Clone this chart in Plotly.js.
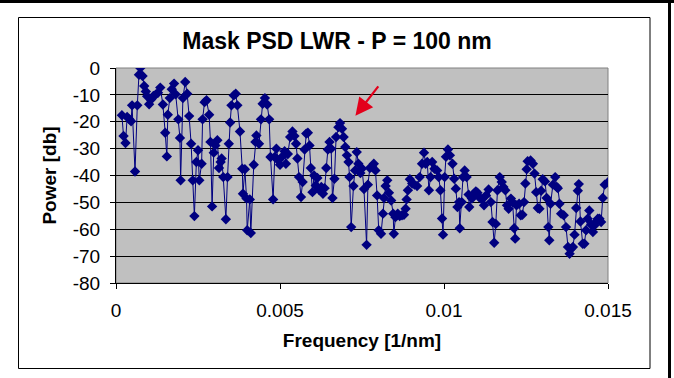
<!DOCTYPE html>
<html>
<head>
<meta charset="utf-8">
<script src="https://cdn.plot.ly/plotly-3.0.1.min.js"></script>
<style>
html,body{margin:0;padding:0;background:#ffffff;}
#chart{width:674px;height:378px;}
</style>
</head>
<body>
<div id="chart"></div>
<script>
// Frequency [1/nm]
const freq = [
0.00018,0.00023,0.00029,0.00034,0.00041,0.00046,0.00049,0.00058,0.00065,0.00070,
0.00074,0.00081,0.00086,0.00091,0.00095,0.00101,0.00107,0.00114,0.00121,0.00128,
0.00135,0.00143,0.00150,0.00155,0.00158,0.00164,0.00170,0.00177,0.00182,0.00190,
0.00195,0.00197,0.00204,0.00211,0.00217,0.00223,0.00229,0.00234,0.00239,0.00245,
0.00250,0.00254,0.00261,0.00264,0.00270,0.00276,0.00284,0.00288,0.00293,0.00298,
0.00303,0.00309,0.00314,0.00319,0.00322,0.00327,0.00335,0.00340,0.00344,0.00348,
0.00352,0.00359,0.00365,0.00370,0.00378,0.00385,0.00387,0.00393,0.00398,0.00400,
0.00408,0.00411,0.00420,0.00425,0.00428,0.00436,0.00442,0.00447,0.00454,0.00461,
0.00467,0.00471,0.00479,0.00484,0.00489,0.00495,0.00500,0.00508,0.00514,0.00518,
0.00524,0.00531,0.00538,0.00544,0.00549,0.00553,0.00558,0.00564,0.00569,0.00575,
0.00580,0.00585,0.00590,0.00594,0.00599,0.00604,0.00609,0.00614,0.00619,0.00626,
0.00631,0.00636,0.00641,0.00646,0.00651,0.00656,0.00660,0.00666,0.00671,0.00678,
0.00683,0.00689,0.00694,0.00699,0.00704,0.00709,0.00712,0.00717,0.00724,0.00729,
0.00734,0.00739,0.00745,0.00750,0.00756,0.00764,0.00768,0.00774,0.00781,0.00786,
0.00791,0.00796,0.00801,0.00808,0.00814,0.00817,0.00822,0.00827,0.00832,0.00839,
0.00845,0.00847,0.00852,0.00859,0.00865,0.00872,0.00878,0.00883,0.00886,0.00890,
0.00896,0.00903,0.00910,0.00918,0.00926,0.00933,0.00939,0.00944,0.00949,0.00954,
0.00959,0.00964,0.00971,0.00979,0.00984,0.00989,0.00994,0.00997,0.01002,0.01006,
0.01012,0.01018,0.01026,0.01031,0.01036,0.01041,0.01046,0.01048,0.01054,0.01058,
0.01063,0.01069,0.01075,0.01077,0.01085,0.01092,0.01097,0.01102,0.01107,0.01115,
0.01122,0.01128,0.01136,0.01143,0.01148,0.01153,0.01158,0.01163,0.01170,0.01176,
0.01181,0.01187,0.01192,0.01197,0.01204,0.01209,0.01214,0.01217,0.01221,0.01229,
0.01234,0.01239,0.01244,0.01248,0.01252,0.01255,0.01264,0.01271,0.01276,0.01281,
0.01286,0.01291,0.01296,0.01301,0.01308,0.01313,0.01318,0.01321,0.01325,0.01332,
0.01339,0.01344,0.01347,0.01352,0.01357,0.01365,0.01372,0.01378,0.01383,0.01388,
0.01393,0.01398,0.01403,0.01408,0.01411,0.01416,0.01423,0.01428,0.01433,0.01438,
0.01443,0.01449,0.01454,0.01459,0.01464,0.01469,0.01474,0.01479,0.01484,0.01490,
0.01500,0.01516
];
// Power [db]
const power = [
-17.6,-25.3,-27.9,-18.2,-19.1,-19.8,-13.9,-38.5,-13.9,-2.5,
0,-3,-6.7,-8.7,-10.5,-13.5,-11.7,-10.4,-9.9,-9.2,
-7.3,-13.6,-24.1,-32.9,-17.4,-11.2,-7.9,-5.8,-9.8,-19.1,
-26,-41.8,-11.2,-5.2,-9.6,-17.9,-28.2,-41.8,-55.1,-35,
-30.6,-41.8,-35.6,-19.1,-12.7,-12,-17.4,-27.5,-51.5,-31.5,
-28.8,-26.9,-37.2,-35,-33.7,-40.6,-56.3,-40.6,-28.2,-20.3,
-13.9,-10.2,-9.6,-13.9,-23.6,-37.5,-46.8,-37.7,-48.6,-60.4,
-48.9,-61.4,-36,-27.5,-25.1,-28.2,-19.1,-13.3,-11.2,-13.6,
-19.1,-33.1,-48.9,-33.1,-30,-34.4,-36,-32.8,-31,-35.6,
-32,-25.7,-23.6,-25.3,-28.2,-33.7,-40.6,-48,-42.4,-30.3,
-24.4,-24.1,-28.8,-37.2,-46.2,-40,-43.7,-40.9,-45.3,-44.3,
-46.8,-44.7,-37.2,-30.3,-27.5,-30,-48.4,-41.2,-25.7,-22,
-20.5,-22.6,-25.7,-29.4,-32.5,-35,-40.6,-59.2,-43.9,-38.1,
-31.3,-35.6,-39.1,-37.4,-45,-65.8,-43.4,-37.2,-36.8,-35.6,
-38.1,-47.4,-60.4,-61.7,-54.2,-48.4,-43.9,-41.8,-46.4,-49.3,
-54.2,-61.7,-55.5,-54.2,-55.1,-54.8,-54.6,-52.4,-48.9,-45.5,
-41.4,-43,-43.4,-43.9,-40.6,-35.6,-31.5,-35.6,-35,-45.5,
-40.6,-35,-37.5,-38.1,-40.6,-45.5,-56,-62,-40.6,-33,
-30.3,-32.5,-35.6,-41.2,-44.9,-51.7,-49.9,-59.6,-49.9,-40.6,
-38.1,-40.6,-47.1,-51.7,-48.6,-46.8,-45.9,-46.4,-48,-48.9,
-51.1,-47.4,-45.2,-49.9,-57.3,-65,-58,-45.5,-40.6,-42.4,
-44.3,-45.5,-51.1,-52.4,-48.6,-49.9,-59.6,-63.5,-51.1,-50.5,
-54.8,-54.6,-49.9,-43,-37.7,-34.7,-34.4,-35.6,-39.3,-46.2,
-52.1,-52.4,-45.7,-41.4,-42.2,-48.4,-59.2,-64.1,-50.5,-43.4,
-40.6,-44.3,-44.7,-50.5,-54.2,-54.8,-59.2,-66.6,-69.1,-67.2,
-66.6,-62,-52.1,-45.7,-43.2,-57.1,-65.4,-65.4,-60.4,-56.1,
-53,-58.3,-61,-58.5,-57.1,-56.1,-56.1,-57.3,-48.4,-43.4,
-42.5,-55
];
const xTickVals = [0, 0.005, 0.01, 0.015];
const xTickText = ['0', '0.005', '0.01', '0.015'];
const yTickVals = [-80, -70, -60, -50, -40, -30, -20, -10, 0];
const yTickText = ['-80', '-70', '-60', '-50', '-40', '-30', '-20', '-10', '0'];
// arrow annotation target (frequency, power)
const arrowFreq = 0.0073;
const arrowPower = -17.8;

const FONT = 'Arial, "Liberation Sans", sans-serif';

const trace = {
  type: 'scatter',
  mode: 'lines+markers',
  x: freq,
  y: power,
  line: {color: '#000080', width: 1},
  marker: {symbol: 'diamond', size: 8, color: '#000080', line: {width: 0}},
  showlegend: false,
  hoverinfo: 'x+y'
};

const W = 674, H = 378, L = 116, R = 66, T = 68, B = 95;
const pw = W - L - R, ph = H - T - B;
const px2p = px => (px - L) / pw;
const py2p = py => (H - B - py) / ph;

const layout = {
  width: W, height: H,
  margin: {l: L, r: R, t: T, b: B, pad: 0},
  paper_bgcolor: '#ffffff',
  plot_bgcolor: '#c0c0c0',
  font: {family: FONT, color: '#000000', size: 19},
  title: {
    text: '<b>Mask PSD LWR - P = 100 nm</b>',
    font: {family: FONT, size: 23, color: '#000000'},
    x: 0.5, xanchor: 'center', y: 1 - 41 / H, yanchor: 'middle', yref: 'container'
  },
  xaxis: {
    range: [0, 0.015],
    tickmode: 'array', tickvals: xTickVals, ticktext: xTickText,
    showgrid: false, zeroline: false,
    showline: true, linecolor: '#000000', linewidth: 1,
    ticks: 'outside', ticklen: 5, tickcolor: '#000000', tickwidth: 1,
    ticklabelstandoff: 5,
    tickfont: {family: FONT, size: 19, color: '#000000'},
    title: {text: '<b>Frequency [1/nm]</b>', font: {family: FONT, size: 19, color: '#000000'}, standoff: 13},
    fixedrange: true
  },
  yaxis: {
    range: [-80, 0],
    tickmode: 'array', tickvals: yTickVals, ticktext: yTickText,
    showgrid: true, gridcolor: '#000000', gridwidth: 1,
    zeroline: false,
    showline: true, linecolor: '#000000', linewidth: 1,
    ticks: 'outside', ticklen: 5, tickcolor: '#000000', tickwidth: 1,
    ticklabelstandoff: 6,
    tickfont: {family: FONT, size: 19, color: '#000000'},
    title: {text: '<b>Power [db]</b>', font: {family: FONT, size: 19, color: '#000000'}, standoff: 11},
    fixedrange: true
  },
  shapes: [
    // plot-area border (grey)
    {type: 'rect', xref: 'paper', yref: 'paper', x0: 0, x1: 1, y0: 0, y1: 1,
     line: {color: '#808080', width: 1}, fillcolor: 'rgba(0,0,0,0)', layer: 'below'},
    // chart-area border
    {type: 'rect', xref: 'paper', yref: 'paper',
     x0: px2p(18.5), x1: px2p(650), y0: py2p(368.5), y1: py2p(17.5),
     line: {color: '#000000', width: 1}, fillcolor: 'rgba(0,0,0,0)', layer: 'above'},
    // outer frame: top and right edges
    {type: 'line', xref: 'paper', yref: 'paper',
     x0: px2p(0), x1: px2p(674), y0: py2p(1.5), y1: py2p(1.5),
     line: {color: '#000000', width: 3}},
    {type: 'line', xref: 'paper', yref: 'paper',
     x0: px2p(669.5), x1: px2p(669.5), y0: py2p(378), y1: py2p(0),
     line: {color: '#000000', width: 3}}
  ],
  annotations: [
    {x: arrowFreq, y: arrowPower, xref: 'x', yref: 'y', text: '',
     showarrow: true, arrowhead: 2, arrowsize: 1.6, arrowwidth: 2.2,
     arrowcolor: '#e3001b', ax: 24, ay: -31, standoff: 0}
  ]
};

Plotly.newPlot('chart', [trace], layout, {displayModeBar: false, staticPlot: true});
</script>
</body>
</html>
